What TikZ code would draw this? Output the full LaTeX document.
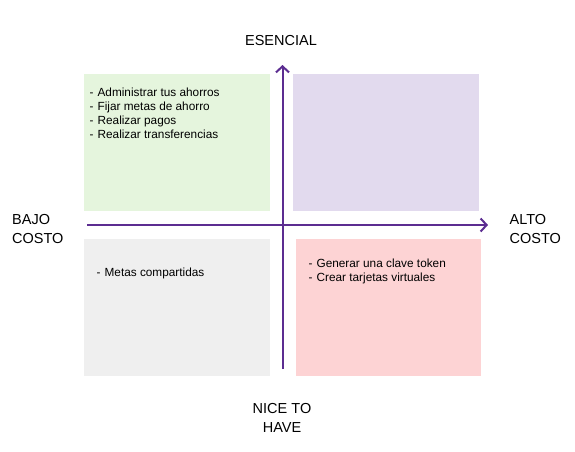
\documentclass[tikz,border=0pt]{standalone}
\usepackage{fontspec}
\setmainfont{Liberation Sans}
\usetikzlibrary{arrows.meta}
\definecolor{qgreen}{HTML}{E5F5DD}
\definecolor{qpurple}{HTML}{E2DAEE}
\definecolor{qgray}{HTML}{EFEFEF}
\definecolor{qpink}{HTML}{FDD3D4}
\definecolor{axiscol}{HTML}{5C2D91}
\tikzset{
  quad/.style={fill=#1, draw=none},
  axis/.style={draw=axiscol, line width=2pt, -{Straight Barb[length=6pt,width=13pt,line width=2pt]}},
  axlabel/.style={font=\fontsize{14.5}{19}\selectfont, text=black, inner sep=0pt, align=center},
  item/.style={font=\fontsize{11.8}{14}\selectfont, text=black, inner sep=0pt, anchor=north west, align=left},
}
\begin{document}
\begin{tikzpicture}[x=1pt,y=-1pt]
\useasboundingbox (0,0) rectangle (575,451);
\fill[quad=qgreen]  (84,74) rectangle (270,211);
\fill[quad=qpurple] (293,74) rectangle (478.5,211);
\fill[quad=qgray]   (84,239) rectangle (270,376);
\fill[quad=qpink]   (296,239) rectangle (481,376);

\coordinate (vbot) at (282.5,369);
\coordinate (vtop) at (282.5,65);
\coordinate (hleft) at (87,225);
\coordinate (hright) at (488,225);
\draw[axis] (vbot) -- (vtop);
\draw[axis] (hleft) -- (hright);

\node[axlabel] (esencial) at (281,41) {ESENCIAL};
\node[axlabel, anchor=west, align=left] (bajo) at (12,229) {BAJO\\COSTO};
\node[axlabel, anchor=west, align=left] (alto) at (509.5,229) {ALTO\\COSTO};
\node[axlabel] (nice) at (282,418) {NICE TO\\HAVE};

\node[item] (ltext) at (89.5,87.5) {-\hspace{4pt}Administrar tus ahorros\\-\hspace{4pt}Fijar metas de ahorro\\-\hspace{4pt}Realizar pagos\\-\hspace{4pt}Realizar transferencias};
\node[item] (gtext) at (96.5,267.5) {-\hspace{4pt}Metas compartidas};
\node[item] (ptext) at (308.5,258.5) {-\hspace{4pt}Generar una clave token\\-\hspace{4pt}Crear tarjetas virtuales};
\end{tikzpicture}
\end{document}
